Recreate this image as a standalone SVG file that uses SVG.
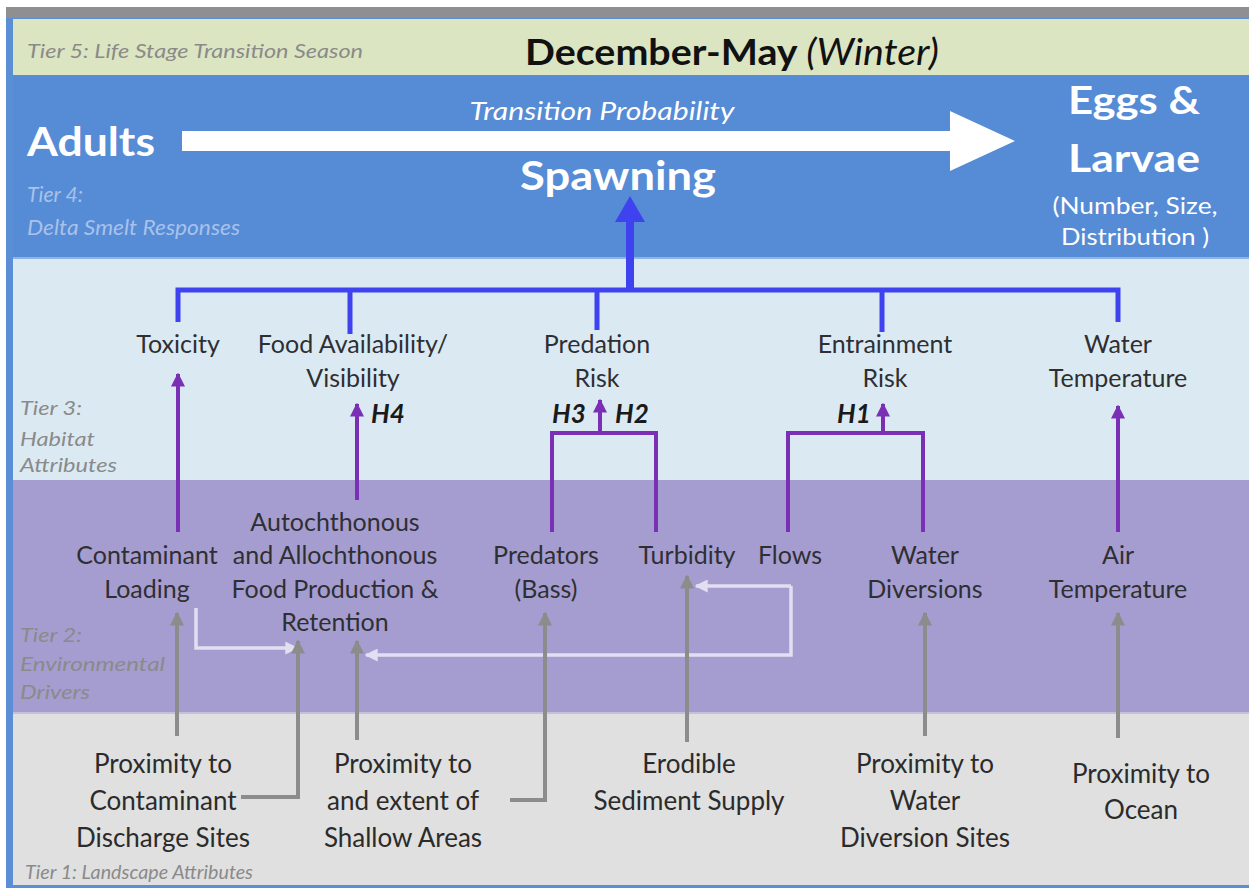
<svg xmlns="http://www.w3.org/2000/svg" width="1249" height="890" viewBox="0 0 1249 890">
  <style>
    .t { font-family: Lato, "Liberation Sans", sans-serif; fill: #2f2f33; font-size: 25px; text-anchor: middle; }
    .t1 { font-family: Lato, "Liberation Sans", sans-serif; fill: #2b2b2b; font-size: 26px; text-anchor: middle; }
    .tier { font-family: Lato, "Liberation Sans", sans-serif; font-style: italic; font-size: 20px; fill: #8a8a8a; }
    .tier4 { font-family: Lato, "Liberation Sans", sans-serif; font-style: italic; font-size: 21px; fill: #a8c2ea; }
    .w { font-family: Lato, "Liberation Sans", sans-serif; fill: #ffffff; text-anchor: middle; font-weight: bold; }
    .wn { font-family: Lato, "Liberation Sans", sans-serif; fill: #ffffff; text-anchor: middle; font-size: 23px; }
    .h { font-family: Lato, "Liberation Sans", sans-serif; font-style: italic; font-weight: bold; font-size: 26px; fill: #1a1a1a; }
    .blue { stroke: #3f43ef; stroke-width: 5; fill: none; }
    .purple { stroke: #7a30b4; stroke-width: 4; fill: none; }
    .gray { stroke: #8c8c8c; stroke-width: 4; fill: none; }
    .light { stroke: #e4def2; stroke-width: 3.5; fill: none; }
  </style>
  <defs>
    <marker id="ap" viewBox="0 0 10 10" refX="9" refY="5" markerWidth="14" markerHeight="14" markerUnits="userSpaceOnUse" orient="auto">
      <path d="M0,0 L10,5 L0,10 z" fill="#7a30b4"/>
    </marker>
    <marker id="ag" viewBox="0 0 10 10" refX="9" refY="5" markerWidth="14" markerHeight="14" markerUnits="userSpaceOnUse" orient="auto">
      <path d="M0,0 L10,5 L0,10 z" fill="#8c8c8c"/>
    </marker>
    <marker id="al" viewBox="0 0 10 10" refX="9" refY="5" markerWidth="13" markerHeight="13" markerUnits="userSpaceOnUse" orient="auto">
      <path d="M0,0 L10,5 L0,10 z" fill="#e4def2"/>
    </marker>
  </defs>

  <!-- background bands -->
  <rect x="0" y="0" width="1249" height="890" fill="#ffffff"/>
  <rect x="6" y="7" width="1243" height="11" fill="#8f8f92"/>
  <rect x="6" y="18" width="1243" height="870" fill="#5a8fd6"/>
  <rect x="13" y="19" width="1236" height="56" fill="#dbe5c1"/>
  <rect x="13" y="76" width="1236" height="181" fill="#568bd5"/>
  <rect x="13" y="257" width="1236" height="2" fill="#8fb3e3"/>
  <rect x="13" y="259" width="1236" height="221" fill="#dbeaf2"/>
  <rect x="13" y="480" width="1236" height="232" fill="#a59dcf"/>
  <rect x="13" y="712" width="1236" height="2" fill="#c4c0dc"/>
  <rect x="13" y="714" width="1236" height="171" fill="#e0e0e0"/>

  <!-- tier labels -->
  <text class="tier" x="27" y="58" textLength="336" lengthAdjust="spacingAndGlyphs">Tier 5: Life Stage Transition Season</text>
  <text class="tier4" x="27" y="202" textLength="56" lengthAdjust="spacingAndGlyphs">Tier 4:</text>
  <text class="tier4" x="27" y="235" textLength="213" lengthAdjust="spacingAndGlyphs">Delta Smelt Responses</text>
  <text class="tier" x="20" y="415" textLength="62" lengthAdjust="spacingAndGlyphs">Tier 3:</text>
  <text class="tier" x="20" y="446" textLength="75" lengthAdjust="spacingAndGlyphs">Habitat</text>
  <text class="tier" x="20" y="472" textLength="97" lengthAdjust="spacingAndGlyphs">Attributes</text>
  <text class="tier" x="20" y="642" textLength="62" lengthAdjust="spacingAndGlyphs">Tier 2:</text>
  <text class="tier" x="20" y="671" textLength="145" lengthAdjust="spacingAndGlyphs">Environmental</text>
  <text class="tier" x="20" y="699" textLength="70" lengthAdjust="spacingAndGlyphs">Drivers</text>
  <text class="tier" x="25" y="879" font-size="15" textLength="228" lengthAdjust="spacingAndGlyphs">Tier 1: Landscape Attributes</text>

  <!-- season title -->
  <text x="732" y="65" font-family="Lato, 'Liberation Sans', sans-serif" font-size="37" text-anchor="middle" fill="#111111" textLength="414" lengthAdjust="spacingAndGlyphs"><tspan font-weight="bold">December-May </tspan><tspan font-style="italic">(Winter)</tspan></text>

  <!-- tier 4: life stages -->
  <g id="adults"><text class="w" x="91" y="156" font-size="40" textLength="128" lengthAdjust="spacingAndGlyphs">Adults</text></g>
  <g id="transition">
    <polygon points="182,131 950,131 950,111 1015,141 950,171 950,151 182,151" fill="#ffffff"/>
    <text x="602" y="120" font-family="Lato, 'Liberation Sans', sans-serif" font-style="italic" font-size="25" fill="#ffffff" text-anchor="middle" textLength="265" lengthAdjust="spacingAndGlyphs">Transition Probability</text>
  </g>
  <g id="spawning"><text class="w" x="618" y="190" font-size="41" textLength="196" lengthAdjust="spacingAndGlyphs">Spawning</text></g>
  <g id="eggs-larvae">
    <text class="w" x="1134" y="114" font-size="39" textLength="132" lengthAdjust="spacingAndGlyphs">Eggs &amp;</text>
    <text class="w" x="1134" y="172" font-size="39" textLength="132" lengthAdjust="spacingAndGlyphs">Larvae</text>
    <text class="wn" x="1135" y="214" textLength="165" lengthAdjust="spacingAndGlyphs">(Number, Size,</text>
    <text class="wn" x="1135" y="245" textLength="148" lengthAdjust="spacingAndGlyphs">Distribution )</text>
  </g>

  <!-- tier 3: habitat attributes -->
  <g id="toxicity"><text class="t" x="178" y="353">Toxicity</text></g>
  <g id="food-availability">
    <text class="t" x="353" y="353">Food Availability/</text>
    <text class="t" x="353" y="387">Visibility</text>
  </g>
  <g id="predation-risk">
    <text class="t" x="597" y="353">Predation</text>
    <text class="t" x="597" y="387">Risk</text>
  </g>
  <g id="entrainment-risk">
    <text class="t" x="885" y="353">Entrainment</text>
    <text class="t" x="885" y="387">Risk</text>
  </g>
  <g id="water-temperature">
    <text class="t" x="1118" y="353">Water</text>
    <text class="t" x="1118" y="387">Temperature</text>
  </g>

  <!-- tier 2: environmental drivers -->
  <g id="contaminant-loading">
    <text class="t" x="147" y="564">Contaminant</text>
    <text class="t" x="147" y="598">Loading</text>
  </g>
  <g id="food-production">
    <text class="t" x="335" y="531">Autochthonous</text>
    <text class="t" x="335" y="564">and Allochthonous</text>
    <text class="t" x="335" y="598">Food Production &amp;</text>
    <text class="t" x="335" y="631">Retention</text>
  </g>
  <g id="predators">
    <text class="t" x="546" y="564">Predators</text>
    <text class="t" x="546" y="598">(Bass)</text>
  </g>
  <g id="turbidity"><text class="t" x="687" y="564">Turbidity</text></g>
  <g id="flows"><text class="t" x="790" y="564">Flows</text></g>
  <g id="water-diversions">
    <text class="t" x="925" y="564">Water</text>
    <text class="t" x="925" y="598">Diversions</text>
  </g>
  <g id="air-temperature">
    <text class="t" x="1118" y="564">Air</text>
    <text class="t" x="1118" y="598">Temperature</text>
  </g>

  <!-- tier 1: landscape attributes -->
  <g id="contaminant-sites">
    <text class="t1" x="163" y="773">Proximity to</text>
    <text class="t1" x="163" y="810">Contaminant</text>
    <text class="t1" x="163" y="847">Discharge Sites</text>
  </g>
  <g id="shallow-areas">
    <text class="t1" x="403" y="773">Proximity to</text>
    <text class="t1" x="403" y="810">and extent of</text>
    <text class="t1" x="403" y="847">Shallow Areas</text>
  </g>
  <g id="sediment-supply">
    <text class="t1" x="689" y="773">Erodible</text>
    <text class="t1" x="689" y="810">Sediment Supply</text>
  </g>
  <g id="diversion-sites">
    <text class="t1" x="925" y="773">Proximity to</text>
    <text class="t1" x="925" y="810">Water</text>
    <text class="t1" x="925" y="847">Diversion Sites</text>
  </g>
  <g id="ocean">
    <text class="t1" x="1141" y="783">Proximity to</text>
    <text class="t1" x="1141" y="819">Ocean</text>
  </g>

  <!-- connectors -->
  <g id="connectors">
    <!-- habitat attributes feeding spawning -->
    <path class="blue" d="M178,322 V290 H1118 V322 M350,290 V334 M597,290 V330 M882,290 V332"/>
    <polygon points="626,292 626,222 615,222 630,196 645,222 634,222 634,292" fill="#3f43ef"/>

    <!-- drivers to habitat attributes -->
    <path class="purple" d="M178,532 V374" marker-end="url(#ap)"/>
    <path class="purple" d="M357,500 V404" marker-end="url(#ap)"/>
    <path class="purple" d="M552,532 V433 H656 V532"/>
    <path class="purple" d="M600,433 V400" marker-end="url(#ap)"/>
    <path class="purple" d="M788,532 V433 H923 V532"/>
    <path class="purple" d="M883,433 V404" marker-end="url(#ap)"/>
    <path class="purple" d="M1118,532 V406" marker-end="url(#ap)"/>
    <text class="h" x="371" y="423">H4</text>
    <text class="h" x="552" y="423">H3</text>
    <text class="h" x="615" y="423">H2</text>
    <text class="h" x="837" y="423">H1</text>

    <!-- interactions among drivers -->
    <path class="light" d="M196,608 V648 H297" marker-end="url(#al)"/>
    <path class="light" d="M791,586 H696" marker-end="url(#al)"/>
    <path class="light" d="M791,586 V655 H366" marker-end="url(#al)"/>

    <!-- landscape attributes to drivers -->
    <path class="gray" d="M177,736 V613" marker-end="url(#ag)"/>
    <path class="gray" d="M241,797 H298 V641" marker-end="url(#ag)"/>
    <path class="gray" d="M357,740 V641" marker-end="url(#ag)"/>
    <path class="gray" d="M510,800 H545 V613" marker-end="url(#ag)"/>
    <path class="gray" d="M687,742 V576" marker-end="url(#ag)"/>
    <path class="gray" d="M925,736 V613" marker-end="url(#ag)"/>
    <path class="gray" d="M1118,738 V613" marker-end="url(#ag)"/>
  </g>
</svg>
